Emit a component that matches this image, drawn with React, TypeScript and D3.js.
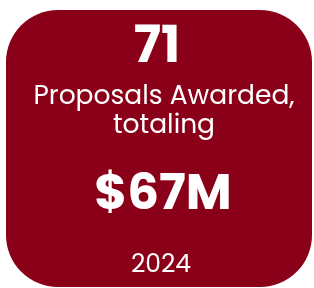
import React, { useEffect, useRef } from "react";
import * as d3 from "d3";

const proposalCount = [71];
const captionLines = ["Proposals Awarded,", "totaling"];
const totalAwarded = ["$67M"];
const years = ["2024"];

const AwardCard = () => {
  const ref = useRef<SVGSVGElement>(null);

  useEffect(() => {
    const width = 314;
    const height = 288;
    const svg = d3.select(ref.current);
    svg.selectAll("*").remove();

    svg
      .append("rect")
      .attr("x", 6)
      .attr("y", 10)
      .attr("width", 306)
      .attr("height", 277)
      .attr("rx", 52)
      .attr("ry", 52)
      .attr("fill", "#8B0019");

    const font = "Poppins, 'Open Sans', Lato, sans-serif";
    const cx = 161;

    svg
      .append("text")
      .attr("x", cx - 4)
      .attr("y", 62)
      .attr("text-anchor", "middle")
      .attr("font-family", font)
      .attr("font-weight", 700)
      .attr("font-size", 51)
      .attr("fill", "white")
      .text(proposalCount[0]);

    const lineY = d3.scaleLinear().domain([0, 1]).range([104, 133]);
    svg
      .selectAll("text.caption")
      .data(captionLines)
      .enter()
      .append("text")
      .attr("class", "caption")
      .attr("x", cx + 3)
      .attr("y", (d, i) => lineY(i))
      .attr("text-anchor", "middle")
      .attr("font-family", font)
      .attr("font-size", 26.5)
      .attr("fill", "white")
      .text((d) => d);

    svg
      .append("text")
      .attr("x", cx + 2)
      .attr("y", 209)
      .attr("text-anchor", "middle")
      .attr("font-family", font)
      .attr("font-weight", 700)
      .attr("font-size", 50)
      .attr("fill", "white")
      .text(totalAwarded[0]);

    svg
      .append("text")
      .attr("x", cx)
      .attr("y", 272)
      .attr("text-anchor", "middle")
      .attr("font-family", font)
      .attr("font-size", 25)
      .attr("fill", "white")
      .text(years[0]);

    svg.attr("width", width).attr("height", height);
  }, []);

  return <svg ref={ref} width={314} height={288} style={{ display: "block" }} />;
};

export default function App() {
  return (
    <div style={{ position: "fixed", left: 0, top: 0 }}>
      <AwardCard />
    </div>
  );
}
